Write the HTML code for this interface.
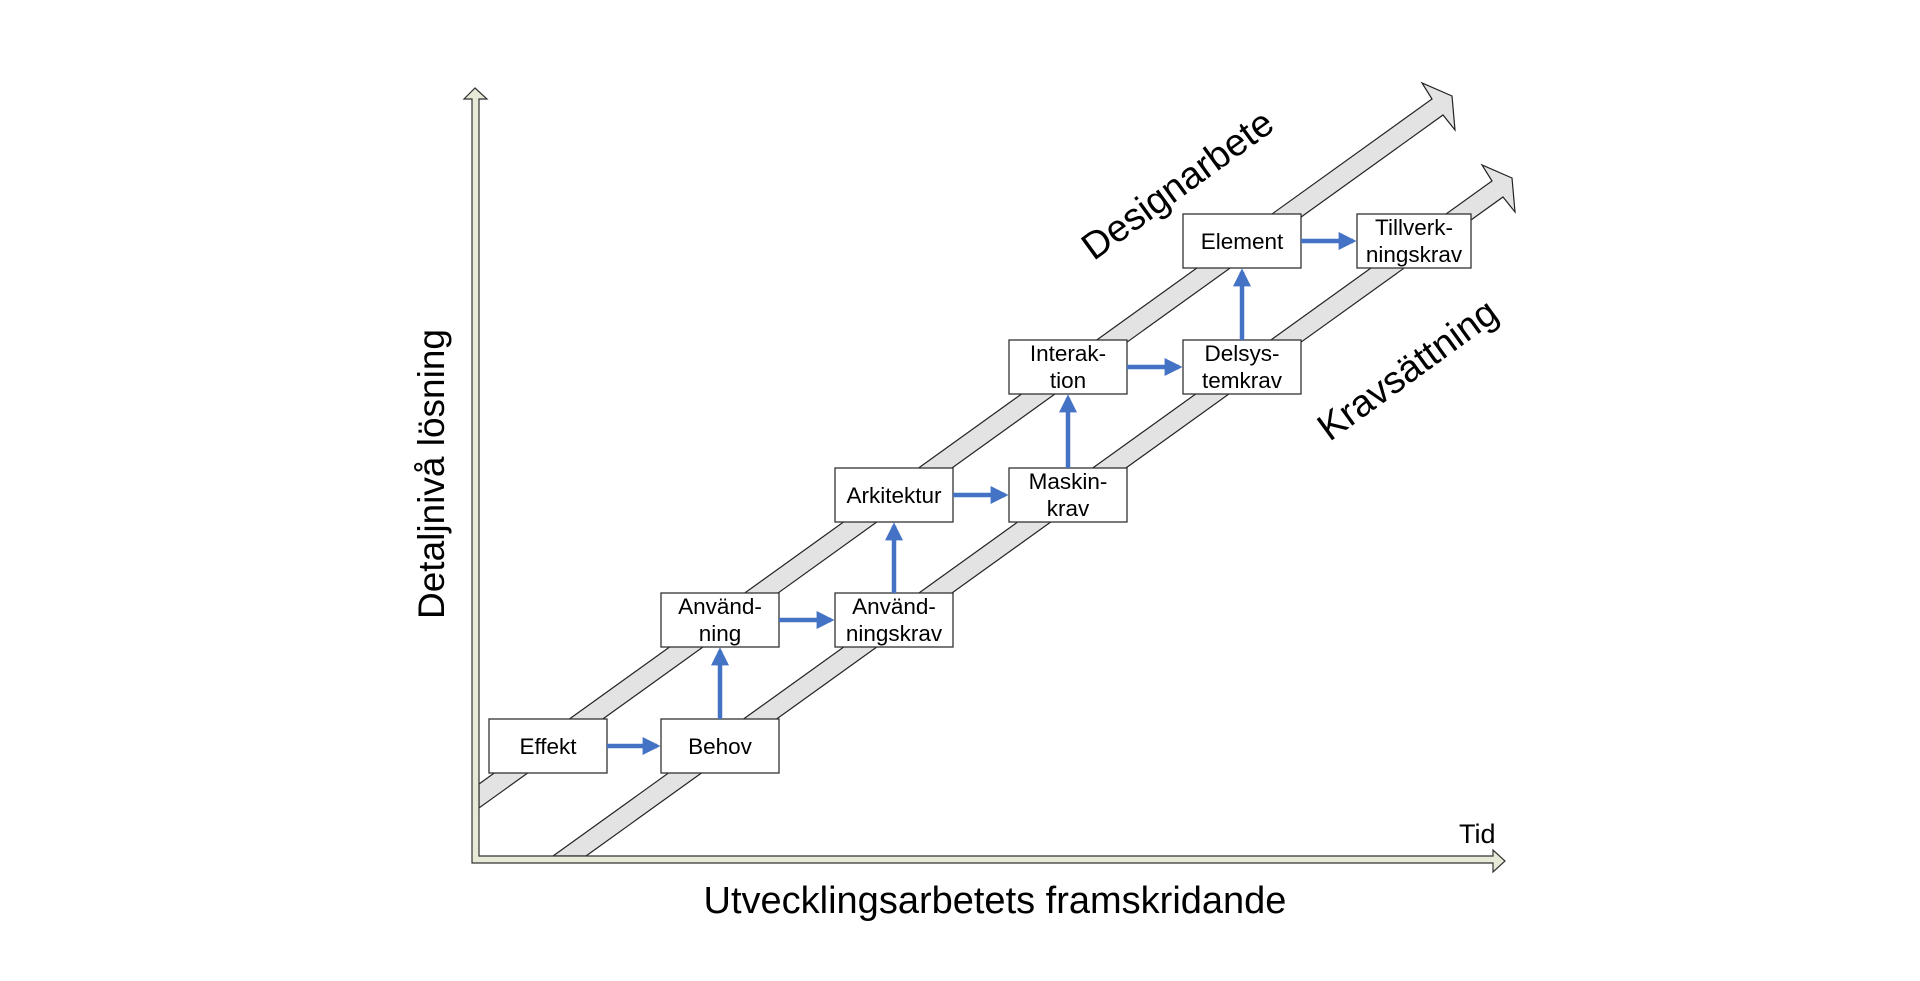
<!DOCTYPE html>
<html><head><meta charset="utf-8"><style>
html,body{margin:0;padding:0;background:#fff;}
svg{display:block;}
text{font-family:"Liberation Sans",Arial,sans-serif;fill:#000;}
</style></head><body>
<svg width="1920" height="981" viewBox="0 0 1920 981" xmlns="http://www.w3.org/2000/svg">
<defs>
<marker id="ah" markerWidth="4" markerHeight="4" refX="3.2" refY="2" orient="auto" markerUnits="strokeWidth">
<path d="M0,0 L4,2 L0,4 z" fill="#4472C4"/>
</marker>
</defs>
<polygon points="479,784 1432,99 1422,83 1452,96 1455,130 1443,115 479,808" fill="#e3e3e3" stroke="#222" stroke-width="1.2" stroke-linejoin="miter"/>
<polygon points="553,856 1492,181 1482,165 1512,178 1515,212 1503,197 586,856" fill="#e3e3e3" stroke="#222" stroke-width="1.2"/>
<polygon points="472,862 472,99 464,99 475,88 487,99 479,99 479,856 1493,856 1493,850 1505,861 1493,872 1493,863 472,863" fill="#e8ead8" stroke="#333" stroke-width="1.2"/>
<g fill="#fff" stroke="#333" stroke-width="1.3">
<rect x="489" y="719" width="118" height="54"/>
<rect x="661" y="719" width="118" height="54"/>
<rect x="661" y="593" width="118" height="54"/>
<rect x="835" y="593" width="118" height="54"/>
<rect x="835" y="468" width="118" height="54"/>
<rect x="1009" y="468" width="118" height="54"/>
<rect x="1009" y="340" width="118" height="54"/>
<rect x="1183" y="340" width="118" height="54"/>
<rect x="1183" y="214" width="118" height="54"/>
<rect x="1357" y="214" width="114" height="54"/>
</g>
<g stroke="#4472C4" stroke-width="4.5" fill="none" marker-end="url(#ah)">
<line x1="607" y1="746" x2="657" y2="746"/>
<line x1="720" y1="719" x2="720" y2="651"/>
<line x1="779" y1="620" x2="831" y2="620"/>
<line x1="894" y1="593" x2="894" y2="526"/>
<line x1="953" y1="495" x2="1005" y2="495"/>
<line x1="1068" y1="468" x2="1068" y2="398"/>
<line x1="1127" y1="367" x2="1179" y2="367"/>
<line x1="1242" y1="340" x2="1242" y2="272"/>
<line x1="1301" y1="241" x2="1353" y2="241"/>
</g>
<g font-size="22.5" text-anchor="middle">
<text x="548" y="754">Effekt</text>
<text x="720" y="614">Använd-</text><text x="720" y="641">ning</text>
<text x="720" y="754">Behov</text>
<text x="894" y="614">Använd-</text><text x="894" y="641">ningskrav</text>
<text x="894" y="503">Arkitektur</text>
<text x="1068" y="489">Maskin-</text><text x="1068" y="516">krav</text>
<text x="1068" y="361">Interak-</text><text x="1068" y="388">tion</text>
<text x="1242" y="361">Delsys-</text><text x="1242" y="388">temkrav</text>
<text x="1242" y="249">Element</text>
<text x="1414" y="235">Tillverk-</text><text x="1414" y="262">ningskrav</text>
</g>
<text x="1459" y="843" font-size="27">Tid</text>
<text x="995" y="913" font-size="38" text-anchor="middle">Utvecklingsarbetets framskridande</text>
<text transform="translate(444,474) rotate(-90)" font-size="37" text-anchor="middle">Detaljnivå lösning</text>
<text transform="translate(1185,195) rotate(-36)" font-size="38" text-anchor="middle">Designarbete</text>
<text transform="translate(1415,380) rotate(-36)" font-size="38" text-anchor="middle">Kravsättning</text>
</svg>
</body></html>
